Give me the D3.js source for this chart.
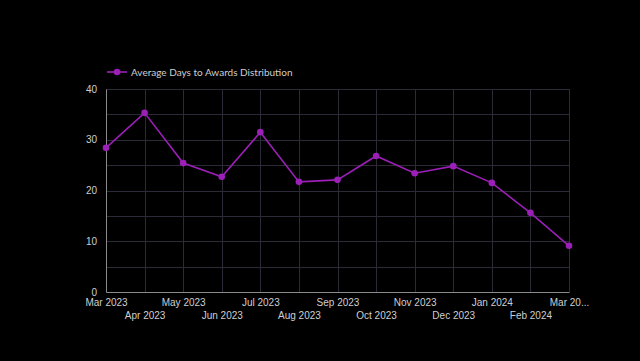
<!DOCTYPE html>
<html>
<head>
<meta charset="utf-8">
<script src="https://cdn.jsdelivr.net/npm/d3@7"></script>
<style>
  body { margin: 0; background: #000; }
  svg { display: block; font-family: Lato, "Open Sans", sans-serif; }
</style>
</head>
<body>
<svg width="640" height="361"></svg>
<script>
var months = ["Mar 2023", "Apr 2023", "May 2023", "Jun 2023", "Jul 2023", "Aug 2023", "Sep 2023",
  "Oct 2023", "Nov 2023", "Dec 2023", "Jan 2024", "Feb 2024", "Mar 2024"];
var avgDays = [28.4, 35.3, 25.4, 22.7, 31.5, 21.7, 22.1, 26.8, 23.4, 24.8, 21.5, 15.6, 9.1];
var yTicks = [0, 10, 20, 30, 40];
var seriesName = "Average Days to Awards Distribution";

var svg = d3.select("svg"),
  margin = { top: 89, right: 71, bottom: 69, left: 106 },
  width = +svg.attr("width") - margin.left - margin.right,
  height = +svg.attr("height") - margin.top - margin.bottom,
  g = svg.append("g").attr("transform", "translate(" + margin.left + "," + margin.top + ")");

svg.insert("rect", ":first-child").attr("width", 640).attr("height", 361).attr("fill", "#000");

var x = d3.scalePoint().domain(months).range([0, width]).padding(0);
var y = d3.scaleLinear().domain([0, 40]).range([height, 0]);

var lineColor = "#9c1fb8";
var gridColor = "#2b2a36";
var textColor = "#cfcfcf";

// grid
g.append("g").selectAll("line")
  .data(d3.range(5, 41, 5))
  .enter().append("line")
  .attr("x1", 0).attr("x2", width)
  .attr("y1", function(d) { return Math.round(y(d)) + 0.5; })
  .attr("y2", function(d) { return Math.round(y(d)) + 0.5; })
  .attr("stroke", gridColor);

g.append("g").selectAll("line")
  .data(months.slice(1))
  .enter().append("line")
  .attr("x1", function(d) { return Math.round(x(d)) + 0.5; })
  .attr("x2", function(d) { return Math.round(x(d)) + 0.5; })
  .attr("y1", 0).attr("y2", height)
  .attr("stroke", gridColor);

// axes
var xAxis = g.append("g")
  .attr("transform", "translate(0," + height + ")")
  .call(d3.axisBottom(x).tickSize(0).tickPadding(6).tickFormat(function(d) {
    return d === "Mar 2024" ? "Mar 20..." : d;
  }));
xAxis.select(".domain").attr("stroke", "#8a8a8a");
xAxis.selectAll("text")
  .attr("fill", textColor).attr("font-size", 10)
  .attr("dy", function(d, i) { return i % 2 ? "2.05em" : "0.75em"; });

var yAxis = g.append("g")
  .call(d3.axisLeft(y).tickValues(yTicks).tickSize(0).tickPadding(9));
yAxis.select(".domain").attr("stroke", "#8a8a8a");
yAxis.selectAll("text").attr("fill", textColor).attr("font-size", 10);

// line
var line = d3.line()
  .x(function(d, i) { return x(months[i]); })
  .y(function(d) { return y(d); });

g.append("path")
  .datum(avgDays)
  .attr("fill", "none")
  .attr("stroke", lineColor)
  .attr("stroke-width", 1.6)
  .attr("d", line);

g.append("g").selectAll("circle")
  .data(avgDays)
  .enter().append("circle")
  .attr("cx", function(d, i) { return x(months[i]); })
  .attr("cy", function(d) { return y(d); })
  .attr("r", 3.3)
  .attr("fill", lineColor);

// legend
var legend = svg.append("g").attr("transform", "translate(107,72)");
legend.append("line").attr("x1", 0).attr("x2", 20).attr("stroke", lineColor).attr("stroke-width", 1.6);
legend.append("circle").attr("cx", 10).attr("r", 3.3).attr("fill", lineColor);
legend.append("text")
  .attr("x", 24).attr("dy", "0.35em")
  .attr("fill", textColor).attr("font-size", 10)
  .text(seriesName);
</script>
</body>
</html>
